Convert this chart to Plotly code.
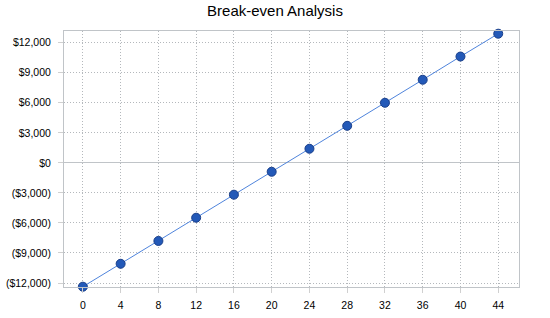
import plotly.graph_objects as go

x_vals = [0, 4, 8, 12, 16, 20, 24, 28, 32, 36, 40, 44]
y_vals = [-12370, -10080, -7800, -5480, -3180, -890, 1410, 3700, 6000, 8300, 10620, 12900]
y_ticks = [-12000, -9000, -6000, -3000, 0, 3000, 6000, 9000, 12000]
y_labels = ["($12,000)", "($9,000)", "($6,000)", "($3,000)", "$0", "$3,000", "$6,000", "$9,000", "$12,000"]

fig = go.Figure()
fig.add_trace(go.Scatter(
    x=x_vals, y=y_vals, mode="lines+markers",
    line=dict(color="#4f84dc", width=1),
    marker=dict(size=9, color="#2359b8", line=dict(color="#1a3f8a", width=1)),
    cliponaxis=False,
))

grid = "#b4b8bc"
fig.update_layout(
    width=550, height=318,
    margin=dict(l=64, r=31, t=31, b=31),
    paper_bgcolor="white", plot_bgcolor="white",
    showlegend=False,
    title=dict(text="Break-even Analysis", x=0.5, xanchor="center", y=0.965, yanchor="middle",
               font=dict(family="Liberation Sans, Arial", size=15, color="black")),
    font=dict(family="Liberation Sans, Arial", size=10.5, color="black"),
)
fig.update_xaxes(
    range=[-2.0, 46.2], tickvals=x_vals, ticktext=[str(v) for v in x_vals],
    showgrid=True, gridcolor=grid, griddash="1px,2px", gridwidth=1,
    showline=True, linecolor="#c0c4c8", linewidth=1, mirror=True,
    ticks="outside", ticklen=5, tickcolor="#d0d0d0", zeroline=False,
    ticklabelstandoff=3, automargin=False,
)
fig.update_yaxes(
    range=[-12400, 13170], tickvals=y_ticks, ticktext=y_labels,
    showgrid=True, gridcolor=grid, griddash="1px,2px", gridwidth=1,
    showline=True, linecolor="#c0c4c8", linewidth=1, mirror=True,
    ticks="outside", ticklen=5, tickcolor="#d0d0d0",
    ticklabelstandoff=5, automargin=False,
    zeroline=True, zerolinecolor="#c0c4c8", zerolinewidth=1,
)
fig.write_html("out.html")
